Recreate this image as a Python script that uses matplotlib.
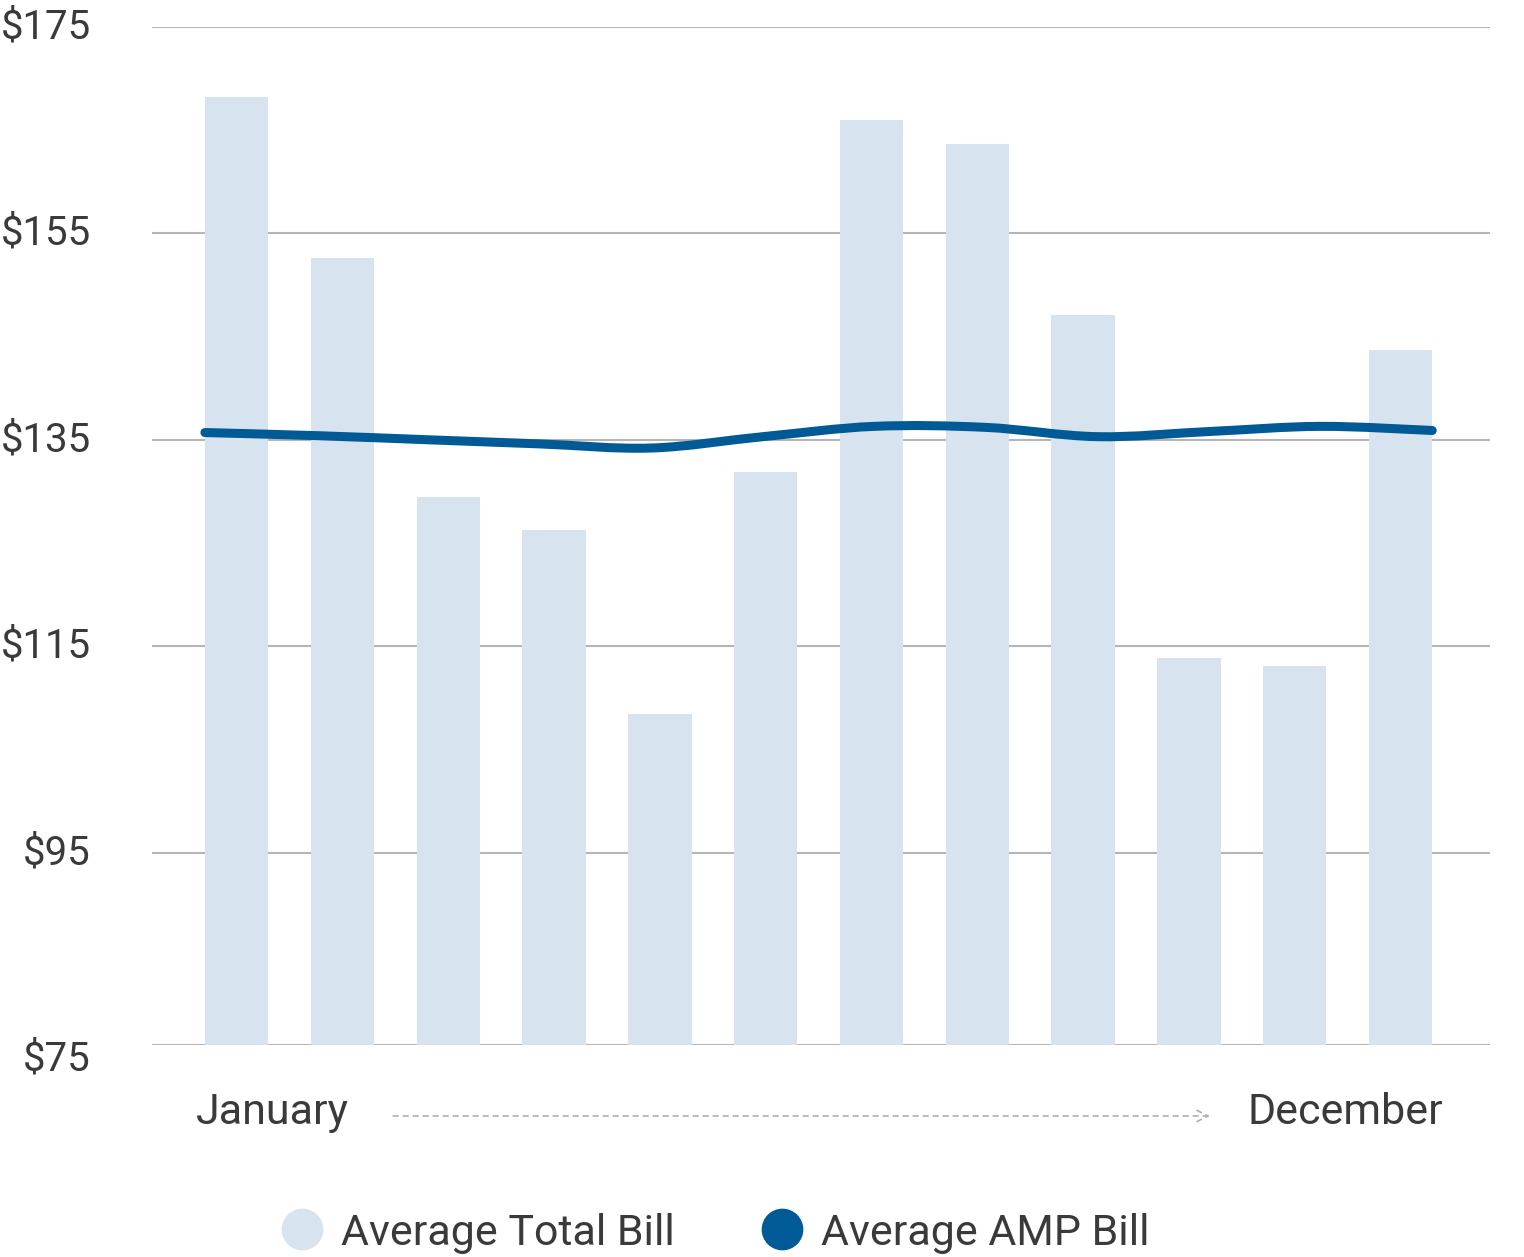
import numpy as np
import matplotlib
matplotlib.use("Agg")
import matplotlib.pyplot as plt
import matplotlib.transforms as mtransforms
from matplotlib.path import Path
from matplotlib.patches import PathPatch
from matplotlib.lines import Line2D

plt.rcParams['font.family'] = ['Roboto', 'DejaVu Sans']

# data
months = ["Jan", "Feb", "Mar", "Apr", "May", "Jun",
          "Jul", "Aug", "Sep", "Oct", "Nov", "Dec"]
total_bill = [168.2, 152.6, 129.5, 126.3, 108.4, 131.9,
              166.0, 163.7, 147.1, 113.9, 113.1, 143.7]
amp_bill = [135.7, 135.4, 135.0, 134.6, 134.2, 135.3,
            136.3, 136.2, 135.3, 135.8, 136.3, 135.9]
tick_vals = [95, 115, 135, 155, 175]
tick_labels = ["$95", "$115", "$135", "$155", "$175"]

bar_col = "#d7e3ee"
line_col = "#005a96"
grid_col = "#b5b5b5"
text_col = "#3a3a3c"

fig = plt.figure(figsize=(15.24, 12.57), dpi=100)
ax = fig.add_axes([152/1524, 1-1045/1257, 1338/1524, 1018/1257])

x = np.arange(len(months))
ax.bar(x, total_bill, width=0.6, color=bar_col, zorder=2)

# smooth curve through the AMP points (Catmull-Rom as cubic bezier)
lx = np.linspace(-0.3, 11.3, len(amp_bill))
ly = np.array(amp_bill)
pts = np.column_stack([lx, ly])
verts = [pts[0]]
codes = [Path.MOVETO]
for i in range(len(pts) - 1):
    p0 = pts[i - 1] if i > 0 else pts[i]
    p1, p2 = pts[i], pts[i + 1]
    p3 = pts[i + 2] if i + 2 < len(pts) else pts[i + 1]
    c1 = p1 + (p2 - p0) / 6
    c2 = p2 - (p3 - p1) / 6
    verts += [c1, c2, p2]
    codes += [Path.CURVE4] * 3
ax.add_patch(PathPatch(Path(verts, codes), fill=False, edgecolor=line_col,
                       lw=6.5, capstyle='round', joinstyle='round', zorder=3))

y_floor = 76.35
ax.set_ylim(y_floor, 175)
ax.set_xlim(-0.8, 11.846)
ax.set_yticks([y_floor] + tick_vals)
ax.set_yticklabels([""] + tick_labels)
ax.yaxis.grid(True, color=grid_col, lw=1.5, zorder=1)
ax.tick_params(axis='y', length=0, pad=44, labelsize=29, labelcolor=text_col)
lift = mtransforms.ScaledTranslation(0, 4/100, fig.dpi_scale_trans)
for lab in ax.get_yticklabels():
    lab.set_verticalalignment('center_baseline')
    lab.set_transform(lab.get_transform() + lift)
ax.set_xticks([])
for s in ax.spines.values():
    s.set_visible(False)
ax.set_axisbelow(True)

# bottom label sits at its true value below the baseline
ax.text(-0.0455, 75, "$75", transform=ax.get_yaxis_transform() + lift,
        ha='right', va='center_baseline', fontsize=29, color=text_col,
        clip_on=False)

# january -> december
ax.text(0.34, -0.066, "January", transform=ax.get_xaxis_transform(),
        ha='center', va='center', fontsize=31, color=text_col)
ax.text(10.48, -0.066, "December", transform=ax.get_xaxis_transform(),
        ha='center', va='center', fontsize=31, color=text_col)
ax.annotate("", xy=(9.2, -0.0697), xytext=(1.48, -0.0697),
            xycoords=ax.get_xaxis_transform(),
            arrowprops=dict(arrowstyle='->', color='#b0b0b0', lw=1.2,
                            linestyle=(0, (3, 3)), mutation_scale=20,
                            shrinkA=0, shrinkB=0))

handles = [Line2D([], [], ls='none', marker='o', ms=29, color=bar_col),
           Line2D([], [], ls='none', marker='o', ms=29, color=line_col)]
fig.legend(handles, ["Average Total Bill", "Average AMP Bill"], ncol=2,
           loc='center', bbox_to_anchor=(0.469, 1-1233/1257), frameon=False,
           fontsize=31, labelcolor=text_col, handletextpad=0.4,
           columnspacing=2.0, handlelength=1.0)

fig.savefig("out.png", dpi=100)
